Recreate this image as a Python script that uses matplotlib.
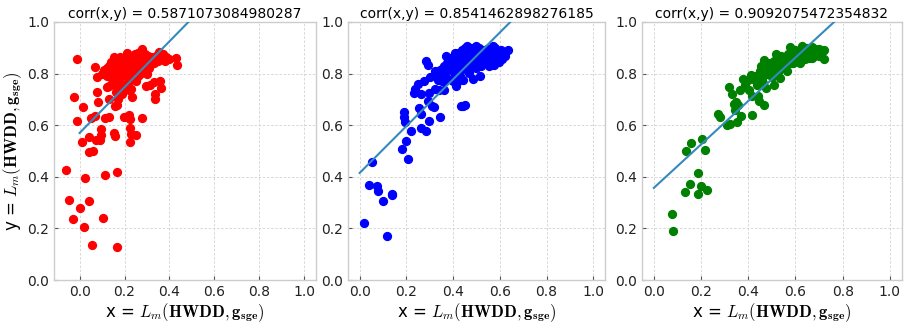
import numpy as np
import matplotlib
matplotlib.use("Agg")
import matplotlib.pyplot as plt

plt.rcParams['mathtext.fontset'] = 'cm'
plt.rcParams['font.family'] = ['DejaVu Sans']

titles = ["corr(x,y) = 0.5871073084980287",
          "corr(x,y) = 0.8541462898276185",
          "corr(x,y) = 0.9092075472354832"]
colors = ["red", "blue", "green"]
intercepts = [0.57, 0.415, 0.357]
slopes = [0.887, 0.907, 0.842]

x1 = [-0.061, -0.049, -0.028, 0.0015, 0.021, 0.025, 0.043, 0.055, 0.103, 0.112, 0.168, 0.168,
      -0.010, -0.024, -0.013, 0.009, 0.013, 0.040, 0.043, 0.061, 0.052, 0.069, 0.069, 0.076,
      0.081, 0.079, 0.073, 0.096, 0.096, 0.090, 0.115, 0.130, 0.121, 0.130, 0.151, 0.157,
      0.157, 0.171, 0.178, 0.198, 0.216, 0.222, 0.223, 0.226, 0.231, 0.252, 0.223, 0.276,
      0.235, 0.222, 0.294, 0.315, 0.330, 0.357, 0.363, 0.334, 0.334,
      0.155, 0.17, 0.19, 0.21, 0.23, 0.245, 0.26, 0.28, 0.27, 0.29, 0.305, 0.32, 0.34, 0.355,
      0.37, 0.385, 0.40, 0.43, 0.435, 0.36, 0.35, 0.38,
      0.10, 0.11, 0.12, 0.13, 0.14, 0.15, 0.12, 0.13, 0.14, 0.145, 0.155, 0.16, 0.17, 0.175,
      0.18, 0.185, 0.19, 0.20, 0.20, 0.21, 0.215, 0.22, 0.225, 0.23, 0.235, 0.24, 0.245, 0.25,
      0.255, 0.26, 0.265, 0.27, 0.275, 0.28, 0.285, 0.29, 0.295, 0.30, 0.31, 0.315, 0.32, 0.33,
      0.34, 0.30, 0.28, 0.26, 0.24, 0.22, 0.21, 0.19, 0.17, 0.15, 0.13, 0.25, 0.23, 0.20, 0.18,
      0.16, 0.27, 0.29, 0.31, 0.24, 0.22, 0.20, 0.18, 0.25, 0.215, 0.17, 0.19, 0.165]
y1 = [0.426, 0.309, 0.238, 0.281, 0.205, 0.397, 0.305, 0.134, 0.240, 0.406, 0.417, 0.127,
      0.857, 0.709, 0.618, 0.536, 0.669, 0.553, 0.496, 0.501, 0.629, 0.634, 0.826, 0.730,
      0.690, 0.787, 0.543, 0.584, 0.562, 0.543, 0.627, 0.631, 0.748, 0.703, 0.571, 0.558,
      0.675, 0.704, 0.727, 0.631, 0.631, 0.640, 0.625, 0.591, 0.565, 0.562, 0.535, 0.626,
      0.708, 0.736, 0.753, 0.757, 0.766, 0.770, 0.744, 0.722, 0.701,
      0.865, 0.85, 0.855, 0.88, 0.87, 0.875, 0.88, 0.895, 0.885, 0.875, 0.87, 0.865, 0.87, 0.885,
      0.875, 0.865, 0.855, 0.86, 0.832, 0.855, 0.85, 0.85,
      0.80, 0.815, 0.82, 0.83, 0.845, 0.835, 0.79, 0.80, 0.81, 0.78, 0.79, 0.82, 0.83, 0.80,
      0.84, 0.815, 0.79, 0.83, 0.805, 0.85, 0.82, 0.84, 0.80, 0.855, 0.825, 0.81, 0.845, 0.83,
      0.86, 0.815, 0.845, 0.87, 0.83, 0.855, 0.84, 0.86, 0.82, 0.845, 0.855, 0.835, 0.85, 0.84,
      0.855, 0.80, 0.81, 0.79, 0.78, 0.77, 0.79, 0.76, 0.77, 0.76, 0.75, 0.77, 0.74, 0.75, 0.745,
      0.73, 0.80, 0.815, 0.82, 0.86, 0.865, 0.86, 0.865, 0.875, 0.87, 0.70, 0.72, 0.68]

x2 = [0.018, 0.039, 0.052, 0.074, 0.080, 0.102, 0.119, 0.137, 0.14, 0.180, 0.189, 0.191,
      0.194, 0.200, 0.207, 0.219, 0.232, 0.237, 0.249, 0.256, 0.261, 0.263, 0.264, 0.282,
      0.277, 0.282, 0.293, 0.297, 0.292, 0.296, 0.310, 0.320, 0.303, 0.321, 0.323, 0.339,
      0.342, 0.335, 0.352, 0.356, 0.360, 0.370, 0.373, 0.394, 0.398, 0.413, 0.409, 0.419,
      0.434, 0.443, 0.451, 0.444, 0.454, 0.468, 0.486, 0.515, 0.637, 0.610,
      0.38, 0.39, 0.40, 0.41, 0.42, 0.43, 0.44, 0.445, 0.45, 0.455, 0.46, 0.465, 0.47, 0.475,
      0.48, 0.485, 0.49, 0.495, 0.50, 0.505, 0.51, 0.515, 0.52, 0.525, 0.53, 0.535, 0.54, 0.545,
      0.55, 0.555, 0.56, 0.565, 0.57, 0.575, 0.58, 0.585, 0.59, 0.595, 0.60, 0.605, 0.61, 0.575,
      0.555, 0.54, 0.52, 0.50, 0.48, 0.46, 0.44, 0.42, 0.40, 0.38, 0.36, 0.35, 0.34, 0.33,
      0.45, 0.43, 0.47, 0.49, 0.51, 0.53, 0.545, 0.565, 0.585, 0.62, 0.615, 0.57, 0.50, 0.46,
      0.44, 0.42, 0.41, 0.39, 0.37, 0.36, 0.345, 0.43, 0.45, 0.41, 0.43, 0.42, 0.40, 0.38, 0.36]
y2 = [0.221, 0.368, 0.458, 0.365, 0.344, 0.305, 0.170, 0.335, 0.33, 0.509, 0.651, 0.631,
      0.614, 0.538, 0.470, 0.579, 0.725, 0.740, 0.760, 0.666, 0.643, 0.722, 0.588, 0.579,
      0.770, 0.848, 0.832, 0.618, 0.692, 0.725, 0.673, 0.670, 0.787, 0.809, 0.740, 0.735,
      0.630, 0.777, 0.770, 0.822, 0.738, 0.868, 0.842, 0.777, 0.822, 0.753, 0.881, 0.783,
      0.673, 0.675, 0.679, 0.774, 0.816, 0.803, 0.779, 0.792, 0.890, 0.868,
      0.85, 0.86, 0.84, 0.87, 0.855, 0.875, 0.89, 0.86, 0.90, 0.875, 0.845, 0.89, 0.865, 0.90,
      0.88, 0.855, 0.895, 0.87, 0.885, 0.845, 0.90, 0.875, 0.86, 0.89, 0.88, 0.855, 0.87, 0.895,
      0.845, 0.88, 0.865, 0.89, 0.85, 0.875, 0.90, 0.86, 0.88, 0.845, 0.87, 0.89, 0.855, 0.835,
      0.83, 0.84, 0.83, 0.82, 0.83, 0.82, 0.835, 0.83, 0.81, 0.82, 0.80, 0.79, 0.80, 0.79,
      0.88, 0.85, 0.84, 0.86, 0.87, 0.85, 0.86, 0.86, 0.885, 0.87, 0.885, 0.905, 0.905, 0.905,
      0.87, 0.88, 0.85, 0.83, 0.81, 0.83, 0.815, 0.81, 0.83, 0.80, 0.79, 0.77, 0.77, 0.78, 0.77]

x3 = [0.076, 0.083, 0.133, 0.138, 0.153, 0.158, 0.189, 0.188, 0.201, 0.206, 0.215, 0.225,
      0.271, 0.281, 0.308, 0.317, 0.324, 0.333, 0.340, 0.344, 0.350, 0.354, 0.358, 0.368,
      0.367, 0.378, 0.385, 0.397, 0.403, 0.410, 0.414, 0.417, 0.428, 0.438, 0.442, 0.447,
      0.458, 0.464, 0.468, 0.476, 0.456, 0.468, 0.479, 0.493, 0.500, 0.507, 0.517, 0.521,
      0.528, 0.535, 0.549, 0.556, 0.563, 0.569, 0.576, 0.583, 0.590, 0.597, 0.608, 0.615,
      0.622, 0.628, 0.636, 0.642, 0.650, 0.657, 0.664, 0.669, 0.678, 0.683, 0.692, 0.701,
      0.711, 0.719, 0.722,
      0.54, 0.56, 0.58, 0.60, 0.62, 0.64, 0.66, 0.68, 0.70, 0.60, 0.62, 0.64, 0.66, 0.57,
      0.59, 0.61, 0.63, 0.65, 0.67, 0.69, 0.53, 0.51, 0.49, 0.47, 0.45, 0.43, 0.50, 0.52,
      0.55, 0.58, 0.48, 0.46, 0.44]
y3 = [0.256, 0.191, 0.342, 0.500, 0.373, 0.532, 0.335, 0.413, 0.365, 0.548, 0.505, 0.349,
      0.643, 0.631, 0.599, 0.748, 0.604, 0.721, 0.683, 0.660, 0.691, 0.614, 0.679, 0.636,
      0.738, 0.779, 0.757, 0.777, 0.735, 0.796, 0.712, 0.640, 0.777, 0.757, 0.712, 0.692,
      0.796, 0.764, 0.679, 0.745, 0.829, 0.851, 0.835, 0.822, 0.787, 0.757, 0.874, 0.861,
      0.805, 0.784, 0.848, 0.829, 0.809, 0.877, 0.903, 0.861, 0.842, 0.877, 0.848, 0.868,
      0.894, 0.906, 0.871, 0.884, 0.900, 0.861, 0.877, 0.903, 0.868, 0.894, 0.877, 0.896,
      0.884, 0.890, 0.858,
      0.87, 0.86, 0.88, 0.89, 0.86, 0.87, 0.89, 0.88, 0.87, 0.85, 0.84, 0.855, 0.865, 0.85,
      0.865, 0.875, 0.885, 0.88, 0.86, 0.89, 0.84, 0.85, 0.84, 0.82, 0.81, 0.79, 0.81, 0.82,
      0.83, 0.84, 0.80, 0.78, 0.77]

xs = [x1, x2, x3]
ys = [y1, y2, y3]

fig = plt.figure(figsize=(9.05, 3.23), dpi=100)
positions = [[0.0597, 0.133, 0.2895, 0.799],
             [0.3845, 0.133, 0.2840, 0.799],
             [0.7094, 0.133, 0.2870, 0.799]]

label_tex = r"$L_m(\mathbf{HWDD},\mathbf{g}_{\mathbf{sge}})$"

for i in range(3):
    ax = fig.add_axes(positions[i])
    ax.set_axisbelow(True)
    ax.grid(True, linestyle=(0, (3, 2)), color='#d2d2d2', linewidth=0.6)
    ax.scatter(xs[i], ys[i], color=colors[i], s=32, zorder=2)
    lx = np.array([0.0, 1.0])
    ax.plot(lx, intercepts[i] + slopes[i] * lx, color='#348ABD', linewidth=1.5, zorder=3)
    ax.set_ylim(0, 1)
    ax.set_xticks([0.0, 0.2, 0.4, 0.6, 0.8, 1.0])
    ax.set_yticks([0.0, 0.2, 0.4, 0.6, 0.8, 1.0])
    ax.tick_params(direction='in', length=3, color='#555555', labelsize=10, labelcolor='#222222')
    for sp in ax.spines.values():
        sp.set_color('#cccccc')
        sp.set_linewidth(1.0)
    ax.set_title(titles[i], fontsize=10, pad=3)
    ax.set_xlabel("x = " + label_tex, fontsize=12, labelpad=2)
    if i == 0:
        ax.set_ylabel("y = " + label_tex, fontsize=12, labelpad=2)

fig.savefig("out.png", dpi=100)
